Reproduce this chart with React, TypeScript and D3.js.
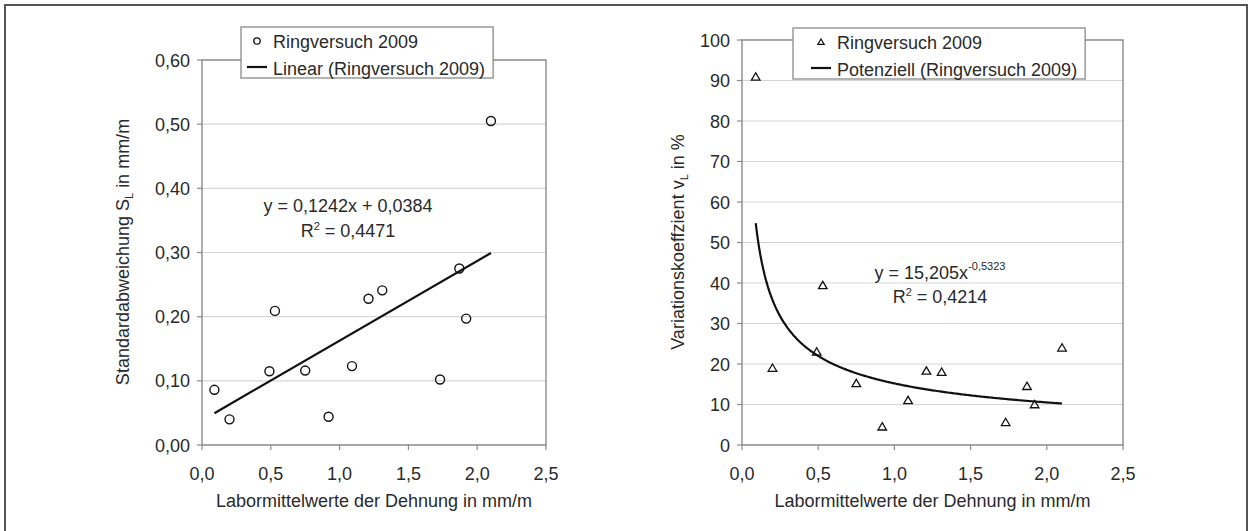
import React, { useEffect, useRef } from 'react'
import * as d3 from 'd3'

// Labormittelwerte (x), shared by both charts
const xMean = [0.09, 0.20, 0.49, 0.53, 0.75, 0.92, 1.09, 1.21, 1.31, 1.73, 1.87, 1.92, 2.10]
// Standardabweichung S_L in mm/m
const stdDev = [0.086, 0.040, 0.115, 0.209, 0.116, 0.044, 0.123, 0.228, 0.241, 0.102, 0.275, 0.197, 0.505]
// Variationskoeffizient v_L in %
const varCoeff = [90.9, 19.0, 23.0, 39.4, 15.2, 4.5, 11.0, 18.3, 18.0, 5.6, 14.5, 10.0, 24.0]

// trend line coefficients as printed in the chart
const linearFit = [0.1242, 0.0384]   // slope, intercept
const powerFit = [15.205, -0.5323]   // factor, exponent

const xTicks = [0, 0.5, 1, 1.5, 2, 2.5]
const xTickLabels = ['0,0', '0,5', '1,0', '1,5', '2,0', '2,5']
const leftYTicks = [0, 0.1, 0.2, 0.3, 0.4, 0.5, 0.6]
const leftYTickLabels = ['0,00', '0,10', '0,20', '0,30', '0,40', '0,50', '0,60']
const rightYTicks = [0, 10, 20, 30, 40, 50, 60, 70, 80, 90, 100]
const rightYTickLabels = ['0', '10', '20', '30', '40', '50', '60', '70', '80', '90', '100']

const FONT = '"Liberation Sans", Arial, sans-serif'
const TEXT = '#2a2a2a'

function drawFrame(g, x, y, yTicks, yLabels) {
    const [x0, x1] = x.range()
    const [y0, y1] = y.range()
    // grid
    g.selectAll('.grid').data(yTicks).enter().append('line')
        .attr('x1', x0).attr('x2', x1)
        .attr('y1', d => y(d)).attr('y2', d => y(d))
        .attr('stroke', '#d6d6d6').attr('stroke-width', 1.2)
    // plot border
    g.append('rect')
        .attr('x', x0).attr('y', y1).attr('width', x1 - x0).attr('height', y0 - y1)
        .attr('fill', 'none').attr('stroke', '#8a8a8a').attr('stroke-width', 1.4)
    // y ticks + labels
    g.selectAll('.yt').data(yTicks).enter().append('line')
        .attr('x1', x0 - 5).attr('x2', x0)
        .attr('y1', d => y(d)).attr('y2', d => y(d))
        .attr('stroke', '#8a8a8a').attr('stroke-width', 1.2)
    g.selectAll('.yl').data(yTicks).enter().append('text')
        .attr('x', x0 - 12).attr('y', d => y(d) + 6.5)
        .attr('text-anchor', 'end')
        .attr('font-size', 18).attr('font-family', FONT).attr('fill', TEXT)
        .text((d, i) => yLabels[i])
    // x ticks + labels
    g.selectAll('.xt').data(xTicks).enter().append('line')
        .attr('x1', d => x(d)).attr('x2', d => x(d))
        .attr('y1', y0).attr('y2', y0 + 5)
        .attr('stroke', '#8a8a8a').attr('stroke-width', 1.2)
    g.selectAll('.xl').data(xTicks).enter().append('text')
        .attr('x', d => x(d)).attr('y', y0 + 35)
        .attr('text-anchor', 'middle')
        .attr('font-size', 18).attr('font-family', FONT).attr('fill', TEXT)
        .text((d, i) => xTickLabels[i])
    // x title
    g.append('text')
        .attr('x', (x0 + x1) / 2).attr('y', y0 + 62)
        .attr('text-anchor', 'middle')
        .attr('font-size', 18).attr('font-family', FONT).attr('fill', TEXT)
        .text('Labormittelwerte der Dehnung in mm/m')
}

function yTitle(g, cx, cy, main, sub, rest) {
    const t = g.append('text')
        .attr('transform', `translate(${cx},${cy}) rotate(-90)`)
        .attr('text-anchor', 'middle')
        .attr('font-size', 18).attr('font-family', FONT).attr('fill', TEXT)
    t.append('tspan').text(main)
    t.append('tspan').attr('font-size', 11).attr('dy', 4).text(sub)
    t.append('tspan').attr('dy', -4).text(rest)
}

// legend box; off = offset of text from box left, mid = marker centre offset
function legend(g, bx, by, rows, off, mid, marker) {
    const box = g.append('rect').attr('x', bx).attr('y', by).attr('height', 51)
        .attr('fill', '#fff').attr('stroke', '#8a8a8a').attr('stroke-width', 1.3)
    const tx = bx + off
    let w = 0
    rows.forEach((r, i) => {
        const t = g.append('text').attr('x', tx).attr('y', by + 21 + i * 27)
            .attr('font-size', 18).attr('font-family', FONT).attr('fill', TEXT).text(r)
        w = Math.max(w, t.node().getComputedTextLength())
    })
    box.attr('width', w + off + 8)
    marker(bx + mid, by + 14)
    g.append('line').attr('x1', bx + mid - 10).attr('x2', bx + mid + 10)
        .attr('y1', by + 40).attr('y2', by + 40)
        .attr('stroke', '#111').attr('stroke-width', 2.2)
}

function triPath(cx, cy, s) {
    return `M${cx},${cy - s * 0.95}L${cx + s},${cy + s * 0.75}L${cx - s},${cy + s * 0.75}Z`
}

function drawCharts(el) {
    const svg = d3.select(el)
    svg.selectAll('*').remove()

    svg.append('rect').attr('x', 5).attr('y', 5).attr('width', 1242).attr('height', 540)
        .attr('fill', '#fff').attr('stroke', '#555').attr('stroke-width', 2)

    // ---- left chart
    const gl = svg.append('g')
    const xl = d3.scaleLinear().domain([0, 2.5]).range([202, 546])
    const yl = d3.scaleLinear().domain([0, 0.6]).range([445, 60])
    drawFrame(gl, xl, yl, leftYTicks, leftYTickLabels)
    yTitle(gl, 129, 252, 'Standardabweichung S', 'L', ' in mm/m')

    const xr0 = d3.extent(xMean)
    gl.append('path')
        .datum(xr0)
        .attr('d', d3.line().x(d => xl(d)).y(d => yl(linearFit[0] * d + linearFit[1])))
        .attr('stroke', '#111').attr('stroke-width', 2.2).attr('fill', 'none')

    gl.selectAll('.pt').data(xMean).enter().append('circle')
        .attr('cx', d => xl(d)).attr('cy', (d, i) => yl(stdDev[i])).attr('r', 4.5)
        .attr('fill', 'none').attr('stroke', '#111').attr('stroke-width', 1.4)

    const eqL = gl.append('text').attr('x', 348).attr('y', 212).attr('text-anchor', 'middle')
        .attr('font-size', 18).attr('font-family', FONT).attr('fill', TEXT)
    eqL.text('y = 0,1242x + 0,0384')
    const r2L = gl.append('text').attr('x', 348).attr('y', 237).attr('text-anchor', 'middle')
        .attr('font-size', 18).attr('font-family', FONT).attr('fill', TEXT)
    r2L.append('tspan').text('R')
    r2L.append('tspan').attr('font-size', 11).attr('dy', -7).text('2')
    r2L.append('tspan').attr('dy', 7).text(' = 0,4471')

    legend(gl, 241, 27, ['Ringversuch 2009', 'Linear (Ringversuch 2009)'], 32, 16, (mx, my) => {
        gl.append('circle').attr('cx', mx).attr('cy', my).attr('r', 3.2)
            .attr('fill', 'none').attr('stroke', '#111').attr('stroke-width', 1.3)
    })

    // ---- right chart
    const gr = svg.append('g')
    const xr = d3.scaleLinear().domain([0, 2.5]).range([742, 1123])
    const yr = d3.scaleLinear().domain([0, 100]).range([445, 40])
    drawFrame(gr, xr, yr, rightYTicks, rightYTickLabels)
    yTitle(gr, 684, 242, 'Variationskoeffzient v', 'L', ' in %')

    const curveX = d3.range(xr0[0], xr0[1] + 1e-9, 0.01)
    gr.append('path')
        .datum(curveX)
        .attr('d', d3.line().x(d => xr(d)).y(d => yr(powerFit[0] * Math.pow(d, powerFit[1]))))
        .attr('stroke', '#111').attr('stroke-width', 2.2).attr('fill', 'none')

    gr.selectAll('.tri').data(xMean).enter().append('path')
        .attr('d', (d, i) => triPath(xr(d), yr(varCoeff[i]), 4.3))
        .attr('fill', 'none').attr('stroke', '#111').attr('stroke-width', 1.3)

    const eqR = gr.append('text').attr('x', 940).attr('y', 279).attr('text-anchor', 'middle')
        .attr('font-size', 18).attr('font-family', FONT).attr('fill', TEXT)
    eqR.append('tspan').text('y = 15,205x')
    eqR.append('tspan').attr('font-size', 11).attr('dy', -9).text('-0,5323')
    const r2R = gr.append('text').attr('x', 940).attr('y', 303).attr('text-anchor', 'middle')
        .attr('font-size', 18).attr('font-family', FONT).attr('fill', TEXT)
    r2R.append('tspan').text('R')
    r2R.append('tspan').attr('font-size', 11).attr('dy', -7).text('2')
    r2R.append('tspan').attr('dy', 7).text(' = 0,4214')

    legend(gr, 793, 28, ['Ringversuch 2009', 'Potenziell (Ringversuch 2009)'], 44, 28, (mx, my) => {
        gr.append('path').attr('d', triPath(mx, my, 3.2))
            .attr('fill', 'none').attr('stroke', '#111').attr('stroke-width', 1.2)
    })
}

const App = () => {
    const ref = useRef(null)
    useEffect(() => {
        drawCharts(ref.current)
    }, [])
    return (
        <svg ref={ref} width={1253} height={531}
            style={{ position: 'absolute', left: 0, top: 0, background: '#fff' }} />
    )
}

export default App
